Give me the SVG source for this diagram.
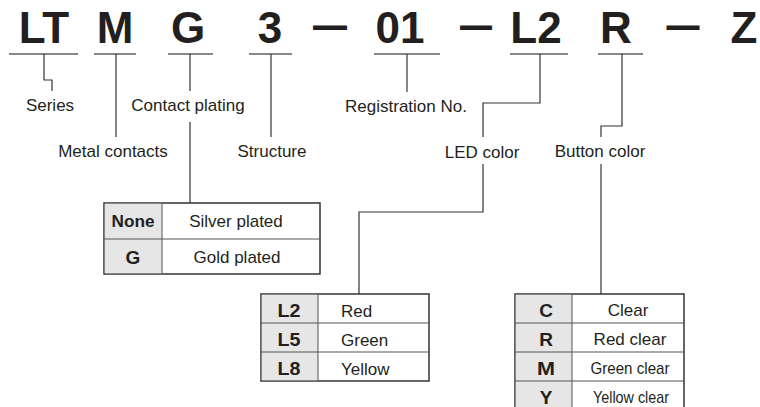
<svg xmlns="http://www.w3.org/2000/svg" width="760" height="407" viewBox="0 0 760 407">
<style>
.t{font-family:"Liberation Sans",Arial,sans-serif;font-weight:bold;font-size:44px;fill:#231f20;text-anchor:middle}
.l{font-family:"Liberation Sans",Arial,sans-serif;font-size:17px;fill:#231f20;text-anchor:middle}
.s{text-anchor:start}
.b{font-family:"Liberation Sans",Arial,sans-serif;font-size:19px;font-weight:bold;fill:#231f20;text-anchor:middle}
.ul{stroke:#888;stroke-width:2;fill:none}
.c{stroke:#333;stroke-width:1.2;fill:none}
.box{fill:#fff;stroke:#333;stroke-width:1.5}
.key{fill:#e6e6e6;stroke:none}
.in{stroke:#555;stroke-width:1;fill:none}
</style>
<rect width="760" height="407" fill="#fff"/>
<g id="code">
<text class="t" x="44" y="43">LT</text>
<text class="t" x="115" y="43">M</text>
<text class="t" x="188" y="43">G</text>
<text class="t" x="270" y="43">3</text>
<text class="t" x="330" y="40" textLength="34" lengthAdjust="spacingAndGlyphs">—</text>
<text class="t" x="400" y="43">01</text>
<text class="t" x="476" y="40" textLength="32" lengthAdjust="spacingAndGlyphs">—</text>
<text class="t" x="536" y="43">L2</text>
<text class="t" x="616" y="43">R</text>
<text class="t" x="683" y="40" textLength="33" lengthAdjust="spacingAndGlyphs">—</text>
<text class="t" x="744" y="43">Z</text>
</g>
<g id="underlines">
<path class="ul" d="M9,54H78M94,54H136M168,54H213M249,54H292M374,54H440M510,54H568M598,54H643"/>
</g>
<g id="connectors">
<path class="c" d="M44,54V80H52V91"/>
<path class="c" d="M116,54V137"/>
<path class="c" d="M190,54V91"/>
<path class="c" d="M271,54V137"/>
<path class="c" d="M407,54V92"/>
<path class="c" d="M540,54V103H483V137"/>
<path class="c" d="M622,54V126H601V137"/>
<path class="c" d="M190,122V203"/>
<path class="c" d="M483,164V212H359V294"/>
<path class="c" d="M601,164V294"/>
</g>
<g id="label-series"><text class="l" x="50" y="111">Series</text></g>
<g id="label-contact-plating"><text class="l" x="188" y="111">Contact plating</text></g>
<g id="label-registration"><text class="l" x="406" y="112">Registration No.</text></g>
<g id="label-metal-contacts"><text class="l" x="113" y="157">Metal contacts</text></g>
<g id="label-structure"><text class="l" x="272" y="157">Structure</text></g>
<g id="label-led-color"><text class="l" x="482" y="158">LED color</text></g>
<g id="label-button-color"><text class="l" x="600" y="157">Button color</text></g>
<g id="table-plating">
<rect class="box" x="104" y="203" width="216" height="71"/>
<rect class="key" x="104.75" y="203.75" width="57.25" height="69.5"/>
<path class="in" d="M162,203V274M104,239H320"/>
<text class="b" x="133" y="227" style="font-size:17px" textLength="43" lengthAdjust="spacingAndGlyphs">None</text>
<text class="l" x="236" y="227">Silver plated</text>
<text class="b" x="133" y="264">G</text>
<text class="l" x="237" y="263">Gold plated</text>
</g>
<g id="table-led">
<rect class="box" x="261" y="294" width="168" height="87"/>
<rect class="key" x="261.75" y="294.75" width="56.25" height="85.5"/>
<path class="in" d="M318,294V381M261,323H429M261,352H429"/>
<text class="b" x="289" y="316.5" textLength="23" lengthAdjust="spacingAndGlyphs">L2</text>
<text class="l s" x="341" y="316.5">Red</text>
<text class="b" x="289" y="345.5" textLength="23" lengthAdjust="spacingAndGlyphs">L5</text>
<text class="l s" x="341" y="345.5">Green</text>
<text class="b" x="289" y="374.5" textLength="23" lengthAdjust="spacingAndGlyphs">L8</text>
<text class="l s" x="341" y="374.5">Yellow</text>
</g>
<g id="table-button">
<rect class="box" x="515" y="294" width="169" height="116"/>
<rect class="key" x="515.75" y="294.75" width="56.25" height="114.5"/>
<path class="in" d="M572,294V410M515,323H684M515,352H684M515,381H684"/>
<text class="b" x="546" y="316.5">C</text>
<text class="l" x="628" y="316">Clear</text>
<text class="b" x="546" y="345.5">R</text>
<text class="l" x="630" y="345">Red clear</text>
<text class="b" x="546" y="374.5" textLength="18" lengthAdjust="spacingAndGlyphs">M</text>
<text class="l" x="630" y="374" textLength="79" lengthAdjust="spacingAndGlyphs">Green clear</text>
<text class="b" x="546" y="403.5">Y</text>
<text class="l" x="631" y="403" textLength="76" lengthAdjust="spacingAndGlyphs">Yellow clear</text>
</g>
</svg>
